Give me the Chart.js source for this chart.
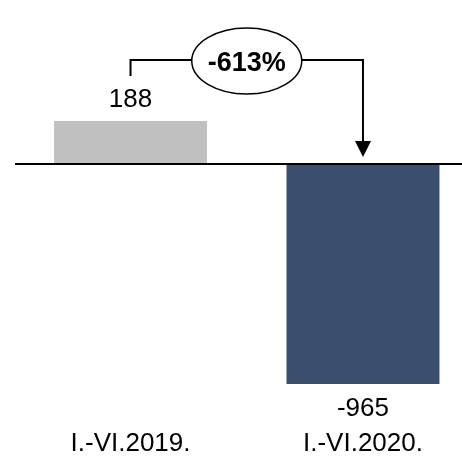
<!DOCTYPE html>
<html>
<head>
<meta charset="utf-8">
<script src="https://cdn.jsdelivr.net/npm/chart.js@4"></script>
<style>
  html, body { margin: 0; padding: 0; background: #ffffff; }
  canvas { display: block; }
</style>
</head>
<body>
<canvas id="chart" width="462" height="461"></canvas>
<script>
// podaci
const categories = ['I.-VI.2019.', 'I.-VI.2020.'];
const values = [188, -965];
const barColors = ['#c0c0c0', '#3b4e6d'];
const changeLabel = '-613%';

const FONT = '"Liberation Sans", Arial, sans-serif';

// nulta linija, vrijednosti iznad/ispod stupaca i strelica s postotkom
const annotations = {
    id: 'annotations',
    afterDatasetsDraw(chart) {
        const ctx = chart.ctx;
        const y = chart.scales.y;
        const bars = chart.getDatasetMeta(0).data;
        const zeroY = y.getPixelForValue(0);

        ctx.save();
        ctx.strokeStyle = '#000000';
        ctx.lineWidth = 2;
        ctx.beginPath();
        ctx.moveTo(15, zeroY);
        ctx.lineTo(chart.width, zeroY);
        ctx.stroke();

        // vrijednosti
        ctx.fillStyle = '#000000';
        ctx.font = '26px ' + FONT;
        ctx.textAlign = 'center';
        ctx.textBaseline = 'middle';
        bars.forEach((bar, i) => {
            const v = values[i];
            const ty = v >= 0 ? bar.y - 21 : bar.y + 25;
            ctx.fillText(String(v), bar.x, ty);
        });

        // strelica
        const x1 = bars[0].x;
        const x2 = bars[1].x;
        const lineY = 60;
        const ex = (x1 + x2) / 2;
        const rx = 55, ry = 33;
        ctx.lineWidth = 2;
        ctx.beginPath();
        ctx.moveTo(x1, 76);
        ctx.lineTo(x1, lineY);
        ctx.lineTo(ex - rx, lineY);
        ctx.moveTo(ex + rx, lineY);
        ctx.lineTo(x2, lineY);
        ctx.lineTo(x2, 142);
        ctx.stroke();

        ctx.beginPath();
        ctx.moveTo(x2 - 8, 141);
        ctx.lineTo(x2 + 8, 141);
        ctx.lineTo(x2, 157);
        ctx.closePath();
        ctx.fill();

        ctx.lineWidth = 1.5;
        ctx.beginPath();
        ctx.ellipse(ex, lineY + 1, rx, ry, 0, 0, Math.PI * 2);
        ctx.fillStyle = '#ffffff';
        ctx.fill();
        ctx.stroke();

        ctx.fillStyle = '#000000';
        ctx.font = 'bold 27px ' + FONT;
        ctx.fillText(changeLabel, ex, lineY + 4);
        ctx.restore();
    }
};

const chart = new Chart(document.getElementById('chart').getContext('2d'), {
    type: 'bar',
    data: {
        datasets: [{
            data: values.map((v, i) => ({ x: i, y: v })),
            backgroundColor: barColors,
            borderWidth: 0,
            categoryPercentage: 1,
            barPercentage: 0.658
        }]
    },
    options: {
        responsive: false,
        animation: false,
        layout: {
            padding: { left: 15, right: 0, top: 28, bottom: 0 }
        },
        plugins: {
            legend: { display: false },
            tooltip: { enabled: false }
        },
        scales: {
            y: {
                display: false,
                min: -1127,
                max: 596
            },
            x: {
                type: 'linear',
                offset: false,
                min: -0.497,
                max: 1.426,
                grid: { display: false, drawTicks: false, offset: false },
                border: { display: false },
                afterBuildTicks: (scale) => {
                    scale.ticks = categories.map((c, i) => ({ value: i }));
                },
                afterFit: (scale) => { scale.height = 40; },
                ticks: {
                    color: '#000000',
                    padding: 7,
                    autoSkip: false,
                    maxRotation: 0,
                    font: { size: 26, family: FONT },
                    callback: (value) => categories[value]
                }
            }
        }
    },
    plugins: [annotations]
});
</script>
</body>
</html>
